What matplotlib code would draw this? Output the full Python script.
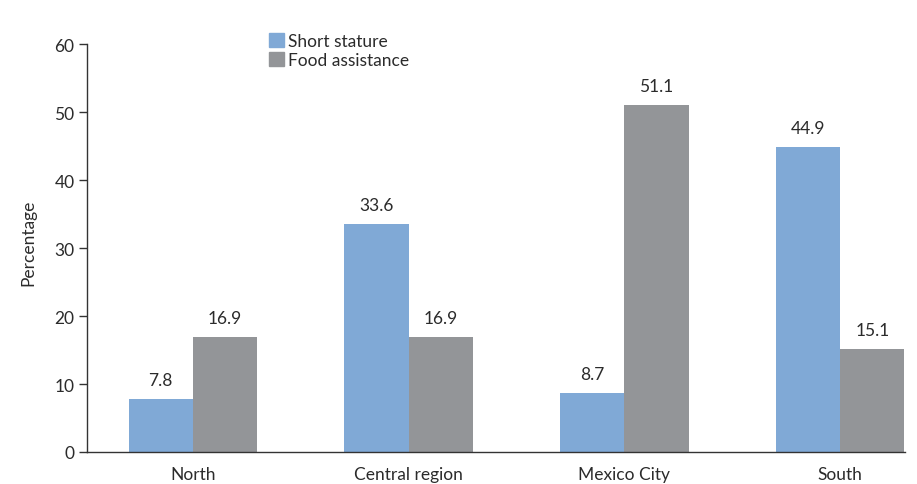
import matplotlib
matplotlib.use("Agg")
import matplotlib.pyplot as plt
import numpy as np
from matplotlib.patches import Patch

regions = ["North", "Central region", "Mexico City", "South"]
short_stature = [7.8, 33.6, 8.7, 44.9]
food_assistance = [16.9, 16.9, 51.1, 15.1]
y_ticks = [0, 10, 20, 30, 40, 50, 60]

BLUE = "#80a9d6"
GRAY = "#939598"
TEXT = "#2b2b2b"
FS = 12.5

plt.rcParams["font.family"] = ["Lato", "DejaVu Sans"]

fig = plt.figure(figsize=(9.17, 4.85), dpi=100)
ax = fig.add_axes([0.0949, 0.066, 0.892, 0.841])

x = np.arange(len(regions))
width = 0.297
ax.bar(x - width / 2, short_stature, width, color=BLUE, zorder=2)
ax.bar(x + width / 2, food_assistance, width, color=GRAY, zorder=2)

for xi, v in zip(x - width / 2, short_stature):
    ax.text(xi, v + 1.6, f"{v:.1f}", ha="center", va="bottom", fontsize=FS, color=TEXT)
for xi, v in zip(x + width / 2, food_assistance):
    ax.text(xi, v + 1.6, f"{v:.1f}", ha="center", va="bottom", fontsize=FS, color=TEXT)

ax.set_xlim(-0.49, 3.30)
ax.set_ylim(0, 60)
ax.set_yticks(y_ticks)
ax.set_xticks(x)
ax.set_xticklabels(regions)
ax.tick_params(axis="x", length=0, pad=10, labelsize=FS, labelcolor=TEXT)
ax.tick_params(axis="y", length=6, width=1, direction="out", labelsize=FS,
               labelcolor=TEXT, color="#333333", pad=3)

for side in ("top", "right"):
    ax.spines[side].set_visible(False)
for side in ("left", "bottom"):
    ax.spines[side].set_color("#333333")
    ax.spines[side].set_linewidth(1.0)
ax.spines["bottom"].set_zorder(3)

fig.text(0.031, 0.50, "Percentage", rotation=90, ha="center", va="center",
         fontsize=FS, color=TEXT)

handles = [Patch(color=BLUE, label="Short stature"),
           Patch(color=GRAY, label="Food assistance")]
fig.legend(handles=handles, loc="upper left", bbox_to_anchor=(0.286, 0.945),
           frameon=False, fontsize=FS, handlelength=0.85, handleheight=0.85,
           handletextpad=0.25, labelspacing=0.2, borderaxespad=0,
           labelcolor=TEXT)

fig.savefig("out.png", dpi=100)
